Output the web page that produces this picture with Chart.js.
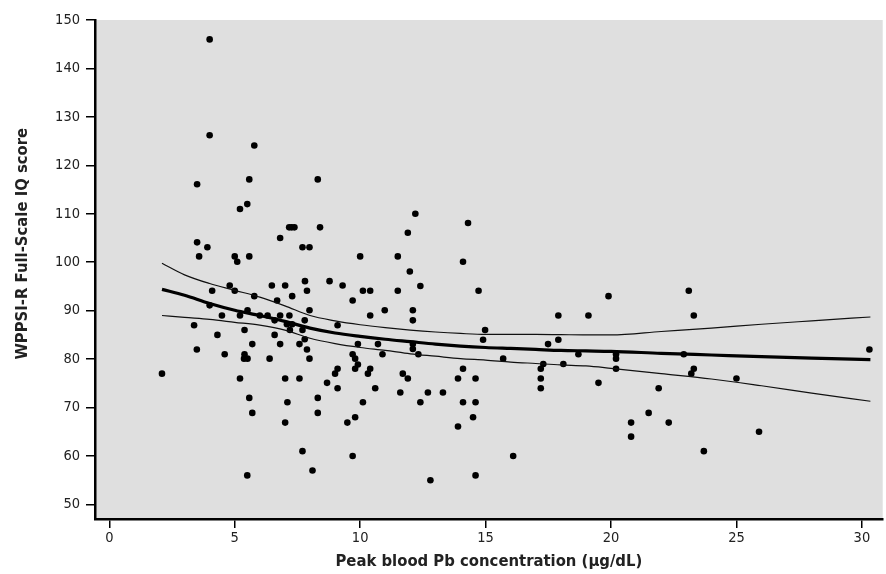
<!DOCTYPE html>
<html>
<head>
<meta charset="utf-8">
<script src="https://cdn.jsdelivr.net/npm/chart.js@4.4.1/dist/chart.umd.min.js"></script>
<style>
  html, body { margin: 0; padding: 0; background: #ffffff; }
  #wrap { width: 886px; height: 574px; position: relative; }
</style>
</head>
<body>
<div id="wrap"><canvas id="c" width="886" height="574"></canvas></div>
<script>
// Scatter data: [peak blood Pb (ug/dL), WPPSI-R Full-Scale IQ]
const childPoints = [
  [4.0,146],[4.0,126.2],[5.78,124.1],[3.5,116.1],[5.58,117.1],[8.31,117.1],[5.21,111],[5.5,112],
  [7.17,107.2],[7.27,107.2],[7.38,107.2],[8.4,107.2],[6.81,105],[3.5,104.1],[3.91,103.1],[7.7,103.1],
  [7.98,103.1],[3.58,101.2],[5.0,101.2],[5.1,100.1],[5.58,101.2],[10.0,101.2],
  [4.8,95.2],[5.0,94.1],[4.1,94.1],[5.78,93],[6.48,95.2],[7.01,95.2],[7.8,96.1],[7.88,94.1],
  [7.29,93],[6.69,92.1],[8.78,96.1],[9.3,95.2],[9.7,92.1],[10.11,94.1],[10.4,94.1],[10.98,90.1],
  [10.4,89],[7.98,90.1],[4.0,91.1],[5.51,90.1],[5.21,89],[4.49,89],[6.0,89],[6.31,89],[6.81,89],
  [7.18,89],[6.59,88],[7.79,88],[7.08,87.2],[7.29,87.2],[7.2,86],[7.7,86],[9.1,87],[3.38,87],
  [5.39,86],[4.31,85],[6.59,85],[7.79,84.1],[5.7,83.1],[6.81,83.1],[7.58,83.1],[7.88,82],
  [9.91,83.1],[10.71,83.1],[10.89,81],[9.7,81],[9.8,80.1],[9.91,78.9],[9.8,78],[10.4,78],
  [10.31,77],[9.1,78],[9.0,77],[10.6,74],[9.1,74],[8.68,75.1],[3.49,82],[4.6,81],[5.39,81],
  [5.37,80.1],[5.51,80.1],[6.39,80.1],[7.98,80.1],[2.1,77],[5.21,76],[7.01,76],[7.58,76],
  [5.58,72],[7.1,71.1],[8.31,72],[10.11,71.1],[5.7,68.9],[8.31,68.9],[7.01,66.9],[9.8,68],
  [9.49,66.9],[7.7,61],[9.7,60],[8.1,57],[5.5,56],
  [12.2,110],[11.9,106.1],[14.3,108.1],[11.5,101.2],[14.1,100.1],[11.98,98.1],[12.4,95.1],
  [11.5,94.1],[14.72,94.1],[12.1,90.1],[12.1,88],[14.98,86],[14.9,84],[12.1,83.1],[12.1,82.1],
  [12.32,81],[11.7,77],[11.9,76],[11.6,73.1],[12.7,73.1],[13.3,73.1],[12.4,71.1],[14.1,78],
  [13.9,76],[14.6,76],[14.1,71.1],[14.6,71.1],[14.5,68],[13.9,66.1],[16.1,60],[12.8,55],
  [14.6,56],[15.7,80.1],[17.2,78],[17.3,79],[17.2,76],[17.2,74],[17.49,83.1],[17.9,84],
  [17.9,89],[18.1,79],[18.7,81],[19.1,89],[19.5,75.1],[19.9,93],[20.2,81],[20.2,80.1],[20.2,78],
  [23.1,94.1],[23.3,89],[22.9,81],[23.3,78],[23.2,77],[25.0,76],[21.9,74],[21.5,68.9],
  [20.8,66.9],[20.8,64],[22.3,66.9],[25.9,65],[23.7,61],[30.3,82]
];

// Smoothed fit and its confidence band
const fitX     = [2.1, 3, 4, 5, 6, 7, 8, 9, 10, 11, 12, 13, 14, 15, 16, 17, 18, 19, 20, 22, 24, 26, 28, 30.34];
const fitMid   = [94.4, 93.2, 91.5, 90.1, 89.0, 87.8, 86.4, 85.4, 84.7, 84.1, 83.6, 83.1, 82.7, 82.4, 82.2, 82.0, 81.8, 81.7, 81.6, 81.2, 80.85, 80.5, 80.2, 79.9];
const fitUpper = [99.8, 97.4, 95.6, 94.2, 92.8, 91.0, 89.0, 87.9, 87.1, 86.5, 86.0, 85.6, 85.3, 85.1, 85.1, 85.1, 85.05, 85.0, 85.0, 85.7, 86.4, 87.2, 87.9, 88.7];
const fitLower = [89.0, 88.6, 88.2, 87.6, 87.0, 86.0, 84.3, 83.2, 82.4, 81.8, 81.1, 80.6, 80.1, 79.8, 79.4, 79.1, 78.8, 78.6, 78.1, 77.0, 75.9, 74.5, 73.0, 71.3];

const xTicks = [0, 5, 10, 15, 20, 25, 30];
const yTicks = [50, 60, 70, 80, 90, 100, 110, 120, 130, 140, 150];

const xTitle = 'Peak blood Pb concentration (\u03BCg/dL)';
const yTitle = 'WPPSI-R Full-Scale IQ score';

const FAMILY = "'Liberation Sans Narrow', 'DejaVu Sans Condensed', 'Arial Narrow', sans-serif";

const toXY = (xs, ys) => xs.map((x, i) => ({ x: x, y: ys[i] }));

const bgPlugin = {
  id: 'plotBg',
  beforeDraw(chart) {
    const a = chart.chartArea, ctx = chart.ctx;
    ctx.save();
    ctx.fillStyle = '#dfdfdf';
    ctx.fillRect(a.left, a.top, a.right - a.left, a.bottom - a.top);
    ctx.restore();
  }
};

new Chart(document.getElementById('c'), {
  type: 'scatter',
  data: {
    datasets: [
      {
        label: 'Upper',
        type: 'line',
        data: toXY(fitX, fitUpper),
        borderColor: '#111',
        borderWidth: 1.2,
        pointRadius: 0,
        fill: false,
        cubicInterpolationMode: 'monotone'
      },
      {
        label: 'Lower',
        type: 'line',
        data: toXY(fitX, fitLower),
        borderColor: '#111',
        borderWidth: 1.2,
        pointRadius: 0,
        fill: false,
        cubicInterpolationMode: 'monotone'
      },
      {
        label: 'Fit',
        type: 'line',
        data: toXY(fitX, fitMid),
        borderColor: '#000',
        borderWidth: 3.2,
        pointRadius: 0,
        fill: false,
        cubicInterpolationMode: 'monotone'
      },
      {
        label: 'Children',
        data: childPoints.map(p => ({ x: p[0], y: p[1] })),
        backgroundColor: '#000',
        borderColor: '#000',
        borderWidth: 0,
        pointRadius: 3.3,
        pointHoverRadius: 3.3
      }
    ]
  },
  options: {
    responsive: false,
    animation: false,
    events: [],
    layout: { padding: { top: 20, right: 1, left: 0, bottom: 0 } },
    plugins: {
      legend: { display: false },
      tooltip: { enabled: false },
      title: { display: false }
    },
    scales: {
      x: {
        type: 'linear',
        min: -0.57,
        max: 30.83,
        afterBuildTicks(scale) { scale.ticks = xTicks.map(v => ({ value: v })); },
        afterFit(scale) { scale.height = 55; },
        grid: {
          display: true,
          drawOnChartArea: false,
          drawTicks: true,
          tickLength: 9,
          color: '#000',
          lineWidth: 1.5
        },
        border: { display: true, color: '#000', width: 2.5 },
        ticks: {
          color: '#222',
          padding: 2,
          maxRotation: 0,
          font: { family: FAMILY, size: 14.5 }
        },
        title: {
          display: true,
          text: xTitle,
          color: '#222',
          padding: { top: 0, bottom: 2 },
          font: { family: FAMILY, size: 16.5, weight: 'bold' }
        }
      },
      y: {
        type: 'linear',
        min: 47,
        max: 150,
        afterBuildTicks(scale) { scale.ticks = yTicks.map(v => ({ value: v })); },
        afterFit(scale) { scale.width = 95; },
        grid: {
          display: true,
          drawOnChartArea: false,
          drawTicks: true,
          tickLength: 9,
          color: '#000',
          lineWidth: 1.5
        },
        border: { display: true, color: '#000', width: 2.5 },
        ticks: {
          color: '#222',
          padding: 6,
          font: { family: FAMILY, size: 14.5 }
        },
        title: {
          display: true,
          text: '\u00A0\u00A0\u00A0\u00A0\u00A0\u00A0\u00A0\u00A0\u00A0\u00A0' + yTitle,
          color: '#222',
          padding: { top: 13, bottom: 0 },
          font: { family: FAMILY, size: 16.5, weight: 'bold' }
        }
      }
    }
  },
  plugins: [bgPlugin]
});
</script>
</body>
</html>
